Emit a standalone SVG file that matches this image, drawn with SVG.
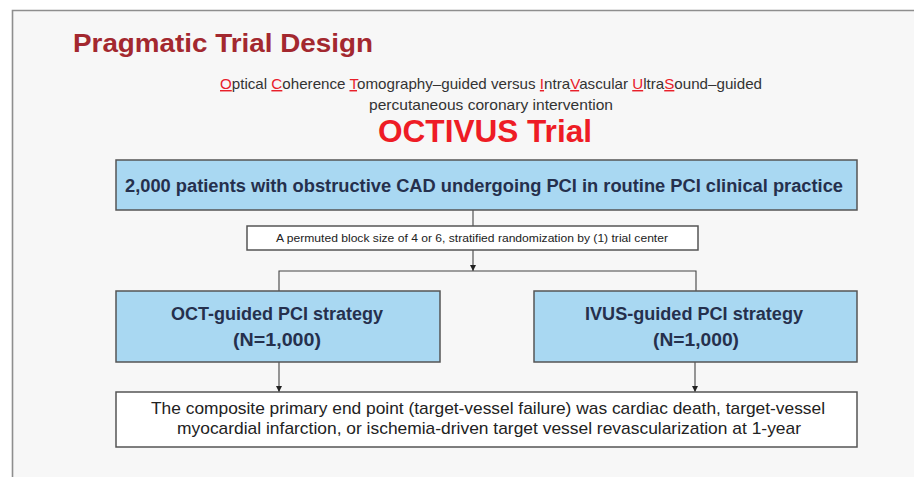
<svg xmlns="http://www.w3.org/2000/svg" width="914" height="477" viewBox="0 0 914 477">
<style>
.bg{fill:#f7f7f7}
.frame{fill:none;stroke:#8e8e8e;stroke-width:1.6}
.blue{fill:#a9d8f2;stroke:#555;stroke-width:1.5}
.white{fill:#ffffff;stroke:#555;stroke-width:1.5}
.conn{stroke:#444;stroke-width:1.1;fill:none}
text{font-family:"Liberation Sans",Arial,sans-serif}
.title{font-size:26px;font-weight:bold;fill:#a3282f}
.sub{font-size:14.5px;fill:#333}
.red{fill:#e8202a;text-decoration:underline}
.big{font-size:31px;font-weight:bold;fill:#ee1c25}
.bt{font-size:18px;font-weight:bold;fill:#25304d}
.small{font-size:11px;fill:#222}
.body{font-size:17px;fill:#222}
</style>
<defs>
<marker id="arr" viewBox="0 0 10 10" refX="10" refY="5" markerWidth="6" markerHeight="6" markerUnits="userSpaceOnUse" orient="auto">
<path d="M0,0 L10,5 L0,10 z" fill="#222"/>
</marker>
</defs>
<rect x="0" y="0" width="914" height="477" fill="#ffffff"/>
<rect class="bg" x="12" y="10" width="902" height="467"/>
<path class="frame" d="M12.5,477 L12.5,10.5 L914,10.5"/>

<g id="header">
<text class="title" x="73" y="52" textLength="300" lengthAdjust="spacingAndGlyphs">Pragmatic Trial Design</text>
<text class="sub" x="491" y="89" text-anchor="middle" textLength="542" lengthAdjust="spacingAndGlyphs"><tspan class="red">O</tspan>ptical <tspan class="red">C</tspan>oherence <tspan class="red">T</tspan>omography–guided versus <tspan class="red">I</tspan>ntra<tspan class="red">V</tspan>ascular <tspan class="red">U</tspan>ltra<tspan class="red">S</tspan>ound–guided</text>
<text class="sub" x="491" y="110" text-anchor="middle" textLength="244" lengthAdjust="spacingAndGlyphs">percutaneous coronary intervention</text>
<text class="big" x="485" y="142" text-anchor="middle" textLength="214" lengthAdjust="spacingAndGlyphs">OCTIVUS Trial</text>
</g>

<g id="connectors">
<line class="conn" x1="473" y1="210" x2="473" y2="226"/>
<line class="conn" x1="473" y1="250" x2="473" y2="271" marker-end="url(#arr)"/>
<polyline class="conn" points="279,291 279,271 696,271 696,291"/>
<line class="conn" x1="279" y1="362" x2="279" y2="392" marker-end="url(#arr)"/>
<line class="conn" x1="695" y1="362" x2="695" y2="392" marker-end="url(#arr)"/>
</g>

<g id="patients">
<rect class="blue" x="116" y="160" width="741" height="50"/>
<text class="bt" x="484" y="192" text-anchor="middle" textLength="718" lengthAdjust="spacingAndGlyphs">2,000 patients with obstructive CAD undergoing PCI in routine PCI clinical practice</text>
</g>

<g id="randomization">
<rect class="white" x="247" y="226" width="451" height="24"/>
<text class="small" x="472" y="241.5" text-anchor="middle" textLength="392" lengthAdjust="spacingAndGlyphs">A permuted block size of 4 or 6, stratified randomization by (1) trial center</text>
</g>

<g id="oct">
<rect class="blue" x="116" y="291" width="324" height="71"/>
<text class="bt" x="277" y="320" text-anchor="middle" textLength="212" lengthAdjust="spacingAndGlyphs">OCT-guided PCI strategy</text>
<text class="bt" x="277" y="346" text-anchor="middle" textLength="88" lengthAdjust="spacingAndGlyphs">(N=1,000)</text>
</g>

<g id="ivus">
<rect class="blue" x="534" y="291" width="323" height="71"/>
<text class="bt" x="694" y="320" text-anchor="middle" textLength="218" lengthAdjust="spacingAndGlyphs">IVUS-guided PCI strategy</text>
<text class="bt" x="696" y="346" text-anchor="middle" textLength="86" lengthAdjust="spacingAndGlyphs">(N=1,000)</text>
</g>

<g id="endpoint">
<rect class="white" x="116" y="392" width="741" height="55"/>
<text class="body" x="488" y="413.5" text-anchor="middle" textLength="674" lengthAdjust="spacingAndGlyphs">The composite primary end point (target-vessel failure) was cardiac death, target-vessel</text>
<text class="body" x="489" y="434" text-anchor="middle" textLength="624" lengthAdjust="spacingAndGlyphs">myocardial infarction, or ischemia-driven target vessel revascularization at 1-year</text>
</g>
</svg>
